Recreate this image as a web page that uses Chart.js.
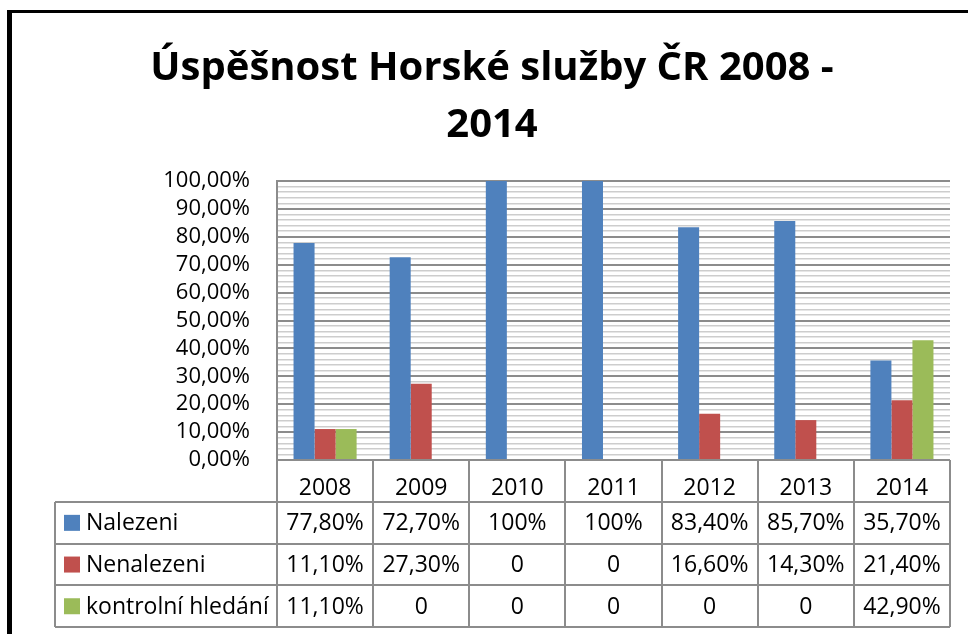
<!DOCTYPE html>
<html>
<head>
<meta charset="utf-8">
<title>Úspěšnost Horské služby ČR 2008 - 2014</title>
<script src="https://cdn.jsdelivr.net/npm/chart.js@4.4.1/dist/chart.umd.min.js"></script>
<style>
  body { margin: 0; background: #fff; }
  #wrap { width: 968px; height: 634px; }
</style>
</head>
<body>
<div id="wrap"><canvas id="chart" width="968" height="634"></canvas></div>
<script>
// data (percent)
const years = ["2008", "2009", "2010", "2011", "2012", "2013", "2014"];
const nalezeni = [77.8, 72.7, 100, 100, 83.4, 85.7, 35.7];
const nenalezeni = [11.1, 27.3, 0, 0, 16.6, 14.3, 21.4];
const kontrolni = [11.1, 0, 0, 0, 0, 0, 42.9];
const seriesNames = ["Nalezeni", "Nenalezeni", "kontrolní hledání"];
const seriesColors = ["#4f81bd", "#c0504d", "#9bbb59"];
const titleLines = ["Úspěšnost Horské služby ČR 2008 -", "2014"];

const FONT = "'Open Sans', sans-serif";
const lineGray = "#8c8c8c";

function fmt(v) {
    if (v === 0) return "0";
    if (v === 100) return "100%";
    return v.toFixed(2).replace(".", ",") + "%";
}

// black frame + data table under the plot
const tablePlugin = {
    id: "dataTable",
    afterDraw(chart) {
        const ctx = chart.ctx;
        const x = chart.scales.x;
        const area = chart.chartArea;
        const n = years.length;
        const w = (x.right - x.left) / n;
        const headH = 42, rowH = 41.7;
        const tLeft = 55;
        const rows = [nalezeni, nenalezeni, kontrolni];
        const tBottom = area.bottom + headH + rowH * rows.length;

        ctx.save();
        // frame
        ctx.fillStyle = "#000";
        ctx.fillRect(7, 10, 961, 3);
        ctx.fillRect(7, 10, 5, 624);

        ctx.strokeStyle = lineGray;
        ctx.lineWidth = 2;
        ctx.beginPath();
        // column lines
        for (let i = 0; i <= n; i++) {
            const cx = Math.round(x.left + i * w);
            ctx.moveTo(cx, area.bottom);
            ctx.lineTo(cx, tBottom);
        }
        // header top (axis)
        ctx.moveTo(x.left, area.bottom);
        ctx.lineTo(x.right, area.bottom);
        // row lines
        for (let r = 0; r <= rows.length; r++) {
            const ry = Math.round(area.bottom + headH + r * rowH);
            ctx.moveTo(tLeft, ry);
            ctx.lineTo(x.right, ry);
        }
        ctx.moveTo(tLeft, area.bottom + headH);
        ctx.lineTo(tLeft, tBottom);
        ctx.stroke();

        ctx.font = "23px " + FONT;
        ctx.fillStyle = "#000";
        ctx.textBaseline = "middle";
        rows.forEach((vals, r) => {
            const cy = area.bottom + headH + r * rowH + rowH / 2;
            ctx.fillStyle = seriesColors[r];
            ctx.fillRect(64, cy - 8, 16, 16);
            ctx.fillStyle = "#000";
            ctx.textAlign = "left";
            ctx.fillText(seriesNames[r], 86, cy + 1);
            ctx.textAlign = "center";
            vals.forEach((v, i) => {
                ctx.fillText(fmt(v), x.getPixelForValue(i), cy + 1);
            });
        });
        ctx.restore();
    }
};

const ctx = document.getElementById("chart").getContext("2d");

new Chart(ctx, {
    type: "bar",
    data: {
        labels: years,
        datasets: [
            { label: seriesNames[0], data: nalezeni, backgroundColor: seriesColors[0] },
            { label: seriesNames[1], data: nenalezeni, backgroundColor: seriesColors[1] },
            { label: seriesNames[2], data: kontrolni, backgroundColor: seriesColors[2] },
        ],
    },
    options: {
        responsive: false,
        animation: false,
        devicePixelRatio: 1,
        layout: { padding: { left: 34, right: 18, top: 0, bottom: 0 } },
        datasets: {
            bar: { categoryPercentage: 0.656, barPercentage: 1, borderWidth: 0 },
        },
        plugins: {
            legend: { display: false },
            tooltip: { enabled: false },
            title: {
                display: true,
                text: titleLines,
                color: "#000",
                font: { family: FONT, size: 40, weight: "bold", lineHeight: 1.425 },
                padding: { top: 40, bottom: 27 },
            },
        },
        scales: {
            x: {
                grid: { display: false },
                border: { display: false },
                ticks: { color: "#000", font: { family: FONT, size: 23 }, padding: 7 },
                afterFit(scale) { scale.height = 174; },
            },
            y: {
                min: 0,
                max: 100,
                border: { display: true, color: lineGray, width: 2 },
                grid: {
                    drawTicks: false,
                    color: (c) => (c.tick.value % 10 === 0 ? "#8c8c8c" : "#cdcdcd"),
                    lineWidth: (c) => (c.tick.value % 10 === 0 ? 2 : 1.5),
                },
                ticks: {
                    stepSize: 2,
                    autoSkip: false,
                    color: "#000",
                    padding: 27,
                    font: { family: FONT, size: 22 },
                    callback: (v) => (v % 10 === 0 ? v.toFixed(2).replace(".", ",") + "%" : ""),
                },
                afterFit(scale) { scale.width = 243; },
            },
        },
    },
    plugins: [tablePlugin],
});
</script>
</body>
</html>
